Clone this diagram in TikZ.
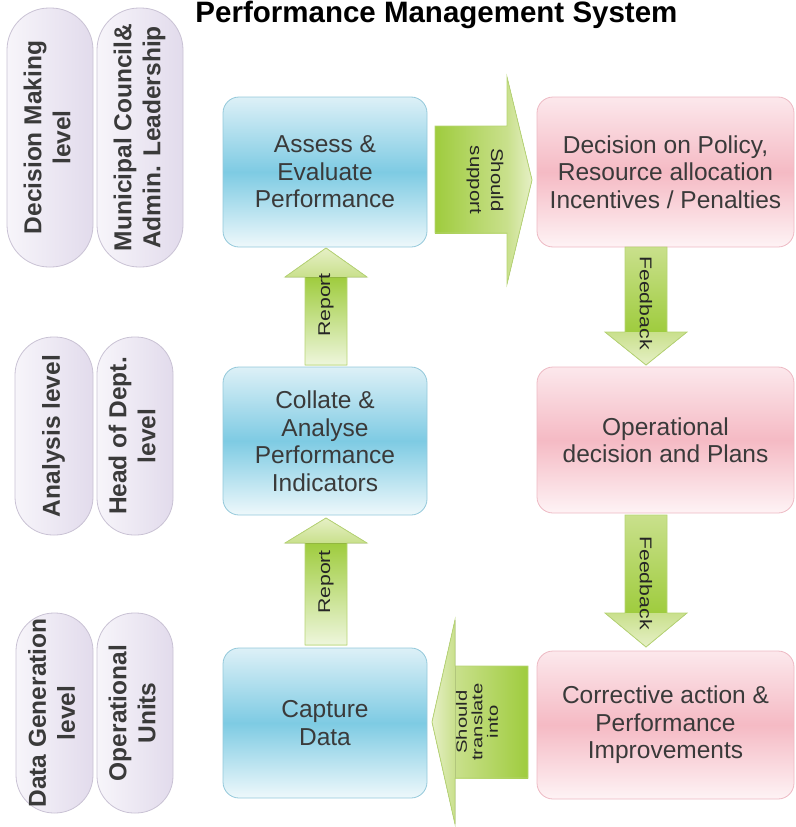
\documentclass[tikz,border=0pt]{standalone}
\usepackage{fontspec}
\setmainfont{Liberation Sans}
\usepackage{graphicx}
\definecolor{txt}{HTML}{3A3A3A}
\definecolor{atxt}{HTML}{262626}
\definecolor{pillE}{HTML}{C9C2D4}
\definecolor{pillL}{HTML}{F7F5FA}
\definecolor{pillR}{HTML}{E2DBEC}
\definecolor{blueE}{HTML}{93C8DA}
\definecolor{blueT}{HTML}{DDF0F7}
\definecolor{blueM}{HTML}{7ECBE3}
\definecolor{blueB}{HTML}{EEF8FB}
\definecolor{pinkE}{HTML}{EDB9C3}
\definecolor{pinkT}{HTML}{FCE8EC}
\definecolor{pinkM}{HTML}{F5BAC4}
\definecolor{pinkB}{HTML}{FEF3F5}
\definecolor{grE}{HTML}{B7D574}
\definecolor{grD}{HTML}{9FCC3E}
\definecolor{grL}{HTML}{EEF6DC}
\definecolor{grP}{HTML}{E6F0C6}
\definecolor{grM}{HTML}{C9E08C}
\tikzset{
  pill/.style={draw=pillE, line width=0.8pt, left color=pillL, right color=pillR,
    inner sep=0pt, text=txt, align=center,
    font=\bfseries\fontsize{24.5}{29}\selectfont},
  box/.style={rounded corners=16pt, line width=0.8pt, inner sep=0pt, align=center,
    text=txt, font=\fontsize{24.5}{27.5}\selectfont},
  bluebox/.style={box, draw=blueE, top color=blueT, bottom color=blueB, middle color=blueM,
    minimum width=204pt},
  pinkbox/.style={box, draw=pinkE, top color=pinkT, bottom color=pinkB, middle color=pinkM,
    minimum width=257pt},
  arrline/.style={draw=grE, line width=0.8pt},
  albl/.style={inner sep=0pt, text=atxt, align=center, font=\fontsize{17}{21}\selectfont},
}
\newcommand{\vtxt}[1]{\rotatebox{90}{\begin{tabular}{@{}c@{}}#1\end{tabular}}}
\begin{document}
\begin{tikzpicture}[x=1pt,y=-1pt]
\useasboundingbox (0,0) rectangle (795,827);
\clip (0,0) rectangle (795,827);

% title
\node[anchor=base, inner sep=0pt, text=black, font=\bfseries\fontsize{29.5}{34}\selectfont]
  (title) at (436.5,23) {Performance Management System};

% level pills
\node[pill, rounded corners=42pt, minimum width=86pt, minimum height=259pt] (p1a) at (50,137.5)
  {\vtxt{Decision Making\\level}};
\node[pill, rounded corners=42pt, minimum width=86pt, minimum height=259pt] (p1b) at (140,137.5)
  {\vtxt{Municipal Council\&\\Admin. Leadership}};
\node[pill, rounded corners=38pt, minimum width=78pt, minimum height=198pt] (p2a) at (54,436)
  {\vtxt{Analysis level}};
\node[pill, rounded corners=37pt, minimum width=76pt, minimum height=198pt] (p2b) at (135,436)
  {\vtxt{Head of Dept.\\level}};
\node[pill, rounded corners=38pt, minimum width=77pt, minimum height=200pt] (p3a) at (54.5,713)
  {\vtxt{Data Generation\\level}};
\node[pill, rounded corners=37pt, minimum width=76pt, minimum height=200pt] (p3b) at (135,713)
  {\vtxt{Operational\\Units}};

% process boxes
\node[bluebox, minimum height=150pt] (assess) at (325,172) {Assess \&\\Evaluate\\Performance};
\node[bluebox, minimum height=148pt] (collate) at (325,441) {Collate \&\\Analyse\\Performance\\Indicators};
\node[bluebox, minimum height=150pt] (capture) at (325,723) {Capture\\Data};
\node[pinkbox, minimum height=150pt] (decision) at (665.5,172) {Decision on Policy,\\Resource allocation\\Incentives / Penalties};
\node[pinkbox, minimum height=146pt] (operational) at (665.5,440) {Operational\\decision and Plans};
\node[pinkbox, minimum height=148pt] (corrective) at (665.5,725) {Corrective action \&\\Performance\\Improvements};

% ---- block arrows ----
% Report (collate -> assess)
\fill[top color=grD, bottom color=grL] (305,277) rectangle (347,365);
\fill[top color=grP, bottom color=grM] (285,277) -- (326,248) -- (367,277) -- cycle;
\path[arrline] (305,365) -- (305,277) -- (285,277) -- (326,248) -- (367,277) -- (347,277) -- (347,365) -- cycle;
\node[albl, rotate=90] (rep1) at (326,305) {\scalebox{1.25}[1]{Report}};

% Report (capture -> collate)
\fill[top color=grD, bottom color=grL] (305,543) rectangle (347,645);
\fill[top color=grP, bottom color=grM] (285,543) -- (326,518) -- (367,543) -- cycle;
\path[arrline] (305,645) -- (305,543) -- (285,543) -- (326,518) -- (367,543) -- (347,543) -- (347,645) -- cycle;
\node[albl, rotate=90] (rep2) at (326,582) {\scalebox{1.25}[1]{Report}};

% Feedback (decision -> operational)
\fill[top color=grM, bottom color=grD] (625,247) rectangle (667,332);
\fill[top color=grM, bottom color=grP] (605,332) -- (646,365) -- (687,332) -- cycle;
\path[arrline] (625,247) -- (625,332) -- (605,332) -- (646,365) -- (687,332) -- (667,332) -- (667,247) -- cycle;
\node[albl, rotate=-90] (fb1) at (646,303) {\scalebox{1.25}[1]{Feedback}};

% Feedback (operational -> corrective)
\fill[top color=grM, bottom color=grD] (625,515) rectangle (667,613);
\fill[top color=grM, bottom color=grP] (605,613) -- (646,647) -- (687,613) -- cycle;
\path[arrline] (625,515) -- (625,613) -- (605,613) -- (646,647) -- (687,613) -- (667,613) -- (667,515) -- cycle;
\node[albl, rotate=-90] (fb2) at (646,583) {\scalebox{1.25}[1]{Feedback}};

% Should support (assess -> decision)
\fill[left color=grD, right color=grM] (435,126) rectangle (507,233);
\fill[left color=grM, right color=grP] (507,77) -- (532,180) -- (507,284) -- cycle;
\path[arrline] (435,126) -- (507,126) -- (507,77) -- (532,180) -- (507,284) -- (507,233) -- (435,233) -- cycle;
\node[albl, rotate=-90] (sup) at (485,180) {\scalebox{1.2}[1]{Should}\\\scalebox{1.2}[1]{support}};

% Should translate into (corrective -> capture)
\fill[left color=grM, right color=grD] (455,666) rectangle (528,778);
\fill[left color=grP, right color=grM] (455,620) -- (432,722) -- (455,824) -- cycle;
\path[arrline] (528,666) -- (455,666) -- (455,620) -- (432,722) -- (455,824) -- (455,778) -- (528,778) -- cycle;
\node[albl, rotate=90, font=\fontsize{15}{15.5}\selectfont] (trans) at (477,722)
  {\scalebox{1.35}[1]{Should}\\\scalebox{1.35}[1]{translate}\\\scalebox{1.35}[1]{into}};
\end{tikzpicture}
\end{document}
